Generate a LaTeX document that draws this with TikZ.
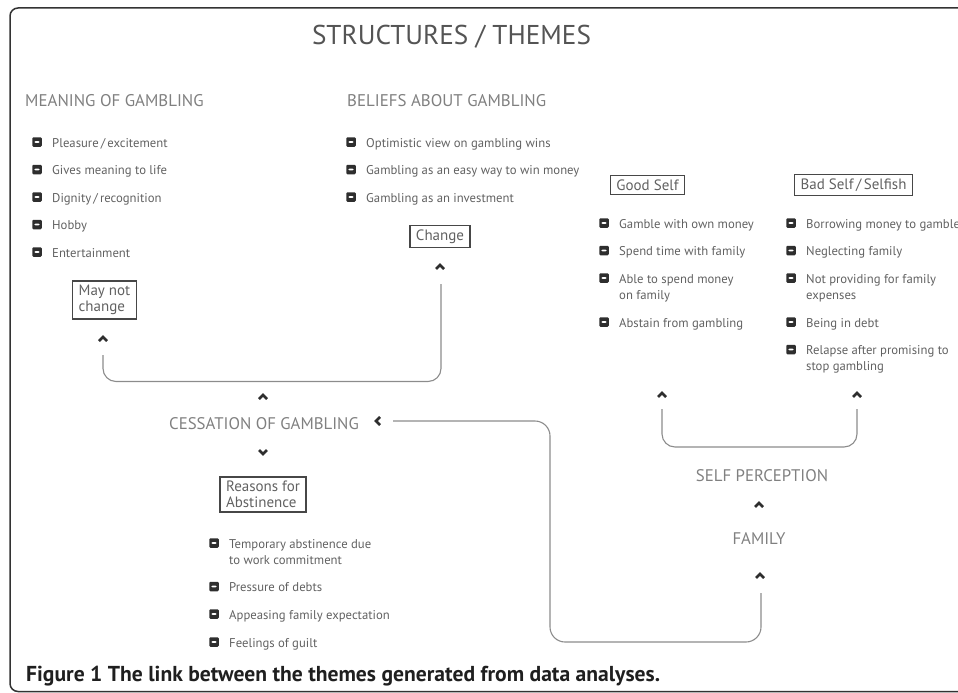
\documentclass[tikz,border=0pt]{standalone}
\usepackage{fontspec}
\setmainfont{PT Sans}
\usetikzlibrary{positioning}

\definecolor{framegray}{gray}{0.2}
\definecolor{titlegray}{gray}{0.33}
\definecolor{headgray}{gray}{0.5}
\definecolor{itemgray}{gray}{0.38}
\definecolor{boxgray}{gray}{0.28}
\definecolor{linkgray}{gray}{0.55}
\definecolor{markgray}{gray}{0.18}

\tikzset{
  heading/.style={anchor=base west, inner sep=0pt, text=headgray, font=\fontsize{16.9}{18}\selectfont},
  theme/.style={anchor=base, inner sep=0pt, text=headgray, font=\fontsize{16.8}{19}\selectfont},
  item/.style={anchor=base west, inner sep=0pt, align=left, text=itemgray, font=\fontsize{12.7}{16}\selectfont},
  bullet/.style={fill=markgray, rounded corners=1.2pt, minimum size=9.5pt, inner sep=0pt,
    path picture={\fill[white] ([xshift=-2.6pt,yshift=-0.9pt]path picture bounding box.center)
      rectangle ([xshift=2.6pt,yshift=0.9pt]path picture bounding box.center);}},
  catbox/.style={draw=boxgray, line width=1.4pt, align=left, text=itemgray, inner xsep=6pt, inner ysep=4pt,
    font=\fontsize{15}{16.5}\selectfont},
  link/.style={draw=linkgray, line width=1.1pt, rounded corners=13pt},
  chev/.pic={\draw[markgray, line width=2.6pt, miter limit=10] (-4,2) -- (0,-2) -- (4,2);}
}

% bulleted entry: name, x, baseline y, text
\newcommand{\bitem}[4]{%
  \node[bullet] (#1b) at (#2-15,#3-5) {};
  \node[item] (#1) at (#2,#3) {#4};}
% same, text runs over two lines (node base sits on the last line)
\newcommand{\bitemtwo}[4]{%
  \node[bullet] (#1b) at (#2-15,#3-5) {};
  \node[item] (#1) at (#2,#3+16) {#4};}

\begin{document}
\begin{tikzpicture}[x=1pt,y=-1pt]
\useasboundingbox (0,0) rectangle (958,693);
\clip (0,0) rectangle (958,693);

\draw[draw=framegray, line width=1.5pt, rounded corners=8pt] (10,8) rectangle (990,691.5);

\node[anchor=base, inner sep=0pt, text=titlegray, font=\fontsize{27.2}{30}\selectfont] (title) at (451.5,45) {STRUCTURES / THEMES};

\node[heading] (meaning) at (25,106) {MEANING OF GAMBLING};
\bitem{m1}{52}{147}{Pleasure\,/\,excitement}
\bitem{m2}{52}{174.5}{Gives meaning to life}
\bitem{m3}{52}{202}{Dignity\,/\,recognition}
\bitem{m4}{52}{229.5}{Hobby}
\bitem{m5}{52}{257}{Entertainment}

\node[heading] (beliefs) at (347,106) {BELIEFS ABOUT GAMBLING};
\bitem{b1}{366}{147}{Optimistic view on gambling wins}
\bitem{b2}{366}{174.5}{Gambling as an easy way to win money}
\bitem{b3}{366}{202}{Gambling as an investment}

\node[catbox] (maynot) at (104.5,300) {May not\\change};
\node[catbox] (change) at (440,236.5) {Change};

\node[catbox] (good) at (647.5,185) {Good Self};
\bitem{g1}{619}{228}{Gamble with own money}
\bitem{g2}{619}{255.5}{Spend time with family}
\bitemtwo{g3}{619}{283}{Able to spend money\\on family}
\bitem{g4}{619}{327}{Abstain from gambling}

\node[catbox] (bad) at (853.5,185) {Bad Self\,/\,Selfish};
\bitem{s1}{806}{228}{Borrowing money to gamble}
\bitem{s2}{806}{255.5}{Neglecting family}
\bitemtwo{s3}{806}{283}{Not providing for family\\expenses}
\bitem{s4}{806}{327}{Being in debt}
\bitemtwo{s5}{806}{354.5}{Relapse after promising to\\stop gambling}

\node[theme] (cessation) at (264,429) {CESSATION OF GAMBLING};
\node[catbox] (reasons) at (263,494.5) {Reasons for\\Abstinence};
\bitemtwo{r1}{229}{548}{Temporary abstinence due\\to work commitment}
\bitem{r2}{229}{591.5}{Pressure of debts}
\bitem{r3}{229}{619}{Appeasing family expectation}
\bitem{r4}{229}{647}{Feelings of guilt}

\node[theme] (selfperc) at (762,481) {SELF PERCEPTION};
\node[theme] (family) at (759,544) {FAMILY};

\pic at (103,339) {chev};
\pic at (440,267) {chev};
\pic at (263,397) {chev};
\pic[rotate=90] at (378,421) {chev};
\pic[rotate=180] at (263,452) {chev};
\pic at (662,395) {chev};
\pic at (857,395) {chev};
\pic at (759,505) {chev};
\pic at (760,576) {chev};

\coordinate (maynotend) at (103,355);
\coordinate (changeend) at (441,284);
\coordinate (cessend) at (393,421);
\coordinate (familyend) at (761,593);
\coordinate (goodend) at (662,409);
\coordinate (badend) at (857,409);

\draw[link] (maynotend) -- (103,381.5) -- (441,381.5) -- (changeend);
\draw[link, rounded corners=15pt] (cessend) -- (550,421) -- (550,642) -- (761,642) -- (familyend);
\draw[link] (goodend) -- (662,447) -- (857,447) -- (badend);

\node[anchor=base west, inner sep=0pt, text=black!88, font=\fontsize{21.6}{22}\selectfont\bfseries] (caption) at (26,681)
  {Figure 1 The link between the themes generated from data analyses.};
\end{tikzpicture}
\end{document}
